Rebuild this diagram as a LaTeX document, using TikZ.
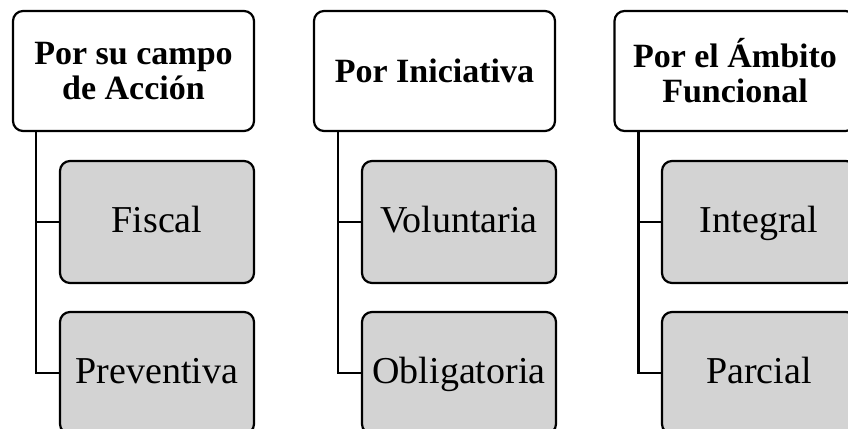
\documentclass[tikz,border=0pt]{standalone}
\usepackage{fontspec}
\setmainfont{Liberation Serif}
\usepackage{tikz}
\definecolor{boxgray}{RGB}{211, 211, 211}

\tikzset{
    headbox/.style={draw=black, fill=white, line width=1.1pt, rounded corners=5pt,
        minimum width=120.5pt, minimum height=60pt, align=center,
        font=\fontsize{17}{17.5}\selectfont\bfseries},
    itembox/.style={draw=black, fill=boxgray, line width=1.1pt, rounded corners=5pt,
        minimum width=97pt, minimum height=61pt, text height=13.5pt, text depth=3.5pt,
        font=\fontsize{19}{22}\selectfont},
    link/.style={draw=black, line width=1.1pt}
}

\begin{document}
\begin{tikzpicture}[x=0.5pt, y=-0.5pt]
    \useasboundingbox (0,0) rectangle (848,429);
    \clip (0,0) rectangle (848,429);

    % cabeceras
    \node[headbox] (campo) at (133.5,71) {Por su campo\\de Acción};
    \node[headbox] (inic) at (434.5,71) {Por Iniciativa};
    \node[headbox] (ambito) at (735,71) {Por el Ámbito\\Funcional};

    % tipos
    \node[itembox] (fiscal) at (157,222) {Fiscal};
    \node[itembox] (prev) at (157,373) {Preventiva};
    \node[itembox] (volun) at (459,222) {Voluntaria};
    \node[itembox] (oblig) at (459,373) {Obligatoria};
    \node[itembox] (integ) at (759,222) {Integral};
    \node[itembox] (parc) at (759,373) {Parcial};

    % conectores
    \coordinate (campo-s) at ([xshift=12pt]campo.south west);
    \coordinate (inic-s) at ([xshift=12.5pt]inic.south west);
    \coordinate (ambito-s) at ([xshift=12.5pt]ambito.south west);
    \draw[link] (campo-s) |- (fiscal.west);
    \draw[link] (campo-s) |- (prev.west);
    \draw[link] (inic-s) |- (volun.west);
    \draw[link] (inic-s) |- (oblig.west);
    \draw[link] (ambito-s) |- (integ.west);
    \draw[link] (ambito-s) |- (parc.west);
\end{tikzpicture}
\end{document}
